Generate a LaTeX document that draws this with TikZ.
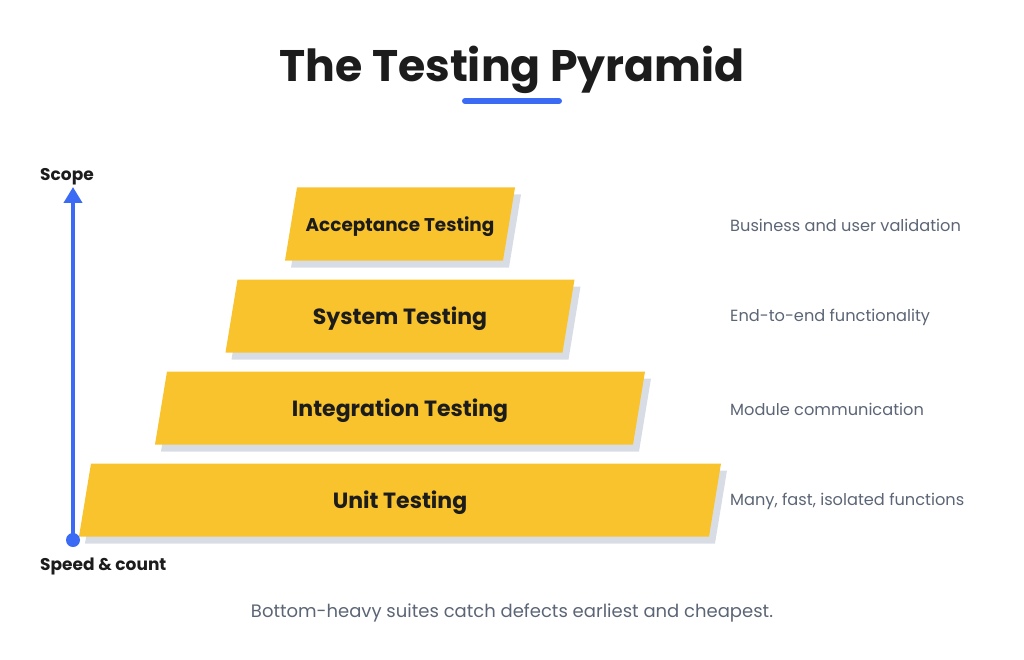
\documentclass[tikz,border=0pt]{standalone}
\usepackage{fontspec}
\setmainfont{Poppins}
\usetikzlibrary{arrows.meta}
\definecolor{ink}{HTML}{1C1C1C}
\definecolor{accent}{HTML}{3B6BF5}
\definecolor{layer}{HTML}{F8C32C}
\definecolor{shadowgray}{HTML}{D8DDE5}
\definecolor{muted}{HTML}{5B6575}
\tikzset{
  layertext/.style={text=ink, font=\bfseries\fontsize{#1}{#1}\selectfont, inner sep=0pt},
  desc/.style={text=muted, font=\fontsize{16.2}{16.2}\selectfont, anchor=west, inner sep=0pt},
  axislabel/.style={text=ink, font=\bfseries\fontsize{17}{17}\selectfont, anchor=west, inner sep=0pt},
}
\begin{document}
\begin{tikzpicture}[x=1pt,y=-1pt]
\useasboundingbox (0,0) rectangle (1024,660);
% title
\node[text=ink, font=\bfseries\fontsize{44.2}{44.2}\selectfont, inner sep=0pt] (title) at (512,70) {The Testing Pyramid};
\draw[accent, line width=6pt, line cap=round] (465,101) -- (559,101);
% layers
\foreach \n/\cy/\w/\fs/\t/\d in {
  acc/224/218/18.4/Acceptance Testing/Business and user validation,
  sys/316/337/22/System Testing/End-to-end functionality,
  int/408/478/22/Integration Testing/Module communication,
  unit/500/630/22/Unit Testing/{Many, fast, isolated functions}}{
  \fill[shadowgray] (400-\w/2+6+6,\cy-36.5+7) -- (400+\w/2+6+6,\cy-36.5+7) -- (400+\w/2-6+6,\cy+36.5+7) -- (400-\w/2-6+6,\cy+36.5+7) -- cycle;
  \fill[layer] (400-\w/2+6,\cy-36.5) -- (400+\w/2+6,\cy-36.5) -- (400+\w/2-6,\cy+36.5) -- (400-\w/2-6,\cy+36.5) -- cycle;
  \node[layertext=\fs] (\n) at (400,\cy+2.5) {\t};
  \node[desc] (\n-d) at (730,\cy+1.5) {\d};
}
% axis
\coordinate (base) at (73,540);
\coordinate (tip) at (73,187);
\draw[accent, line width=4pt, -{Triangle[length=16pt,width=18pt]}] (base) -- (tip);
\fill[accent] (base) circle (7);
\node[axislabel] (scope) at (40,176.5) {Scope};
\node[axislabel] (speed) at (40,566) {Speed \& count};
% footer
\node[text=muted, font=\fontsize{18}{18}\selectfont, inner sep=0pt] (foot) at (512,613) {Bottom-heavy suites catch defects earliest and cheapest.};
\end{tikzpicture}
\end{document}
